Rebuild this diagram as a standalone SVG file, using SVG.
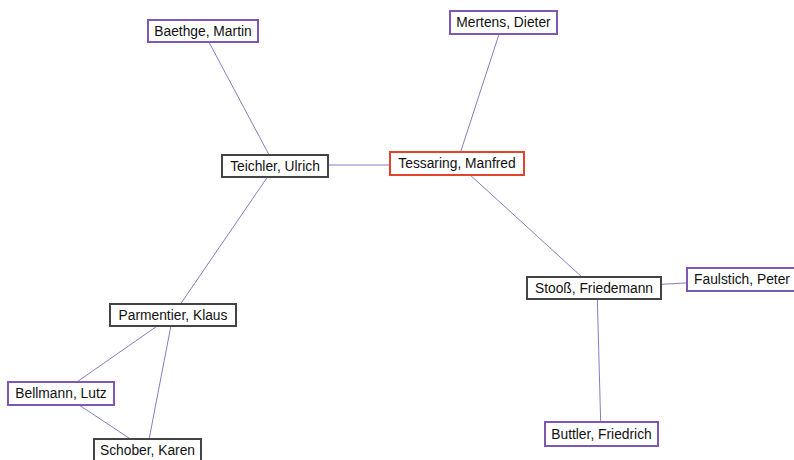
<svg xmlns="http://www.w3.org/2000/svg" width="794" height="460" viewBox="0 0 794 460">
<style>
.e{stroke:#8a7cc4;stroke-width:1;fill:none}
.n rect{fill:#fff;stroke-width:2}
.p rect{stroke:#7f58b2}
.g rect{stroke:#444}
.r rect{stroke:#e0442e}
.n text{font-family:"Liberation Sans",Arial,sans-serif;font-size:13.8px;fill:#111;text-anchor:middle;dominant-baseline:central}
</style>
<rect width="794" height="460" fill="#fff"/>
<g id="edges">
<line class="e" x1="203" y1="31" x2="275" y2="166"/>
<line class="e" x1="503" y1="22" x2="457" y2="163"/>
<line class="e" x1="275" y1="165" x2="457" y2="165"/>
<line class="e" x1="275" y1="166" x2="173" y2="315"/>
<line class="e" x1="457" y1="163" x2="594" y2="288"/>
<line class="e" x1="594" y1="288" x2="740" y2="280"/>
<line class="e" x1="597" y1="288" x2="601" y2="434"/>
<line class="e" x1="173" y1="315" x2="61" y2="393"/>
<line class="e" x1="173" y1="315" x2="147" y2="450"/>
<line class="e" x1="61" y1="393" x2="147" y2="450"/>
</g>
<g id="baethge" class="n p"><rect x="148" y="20" width="110" height="22"/><text x="203" y="31">Baethge, Martin</text></g>
<g id="mertens" class="n p"><rect x="450" y="11" width="107" height="23"/><text x="503.5" y="22.5">Mertens, Dieter</text></g>
<g id="teichler" class="n g"><rect x="222" y="155" width="106" height="22"/><text x="275" y="166">Teichler, Ulrich</text></g>
<g id="tessaring" class="n r"><rect x="390" y="152" width="134" height="23"/><text x="457" y="163.5">Tessaring, Manfred</text></g>
<g id="stooss" class="n g"><rect x="527" y="277" width="134" height="22"/><text x="594" y="288">Stooß, Friedemann</text></g>
<g id="faulstich" class="n p"><rect x="687" y="268" width="110" height="23"/><text x="742" y="279.5">Faulstich, Peter</text></g>
<g id="parmentier" class="n g"><rect x="110" y="304" width="126" height="22"/><text x="173" y="315">Parmentier, Klaus</text></g>
<g id="bellmann" class="n p"><rect x="8" y="382" width="106" height="23"/><text x="61" y="393.5">Bellmann, Lutz</text></g>
<g id="schober" class="n g"><rect x="94" y="439" width="107" height="23"/><text x="147.5" y="450.5">Schober, Karen</text></g>
<g id="buttler" class="n p"><rect x="545" y="422" width="113" height="24"/><text x="601.5" y="434">Buttler, Friedrich</text></g>
</svg>
